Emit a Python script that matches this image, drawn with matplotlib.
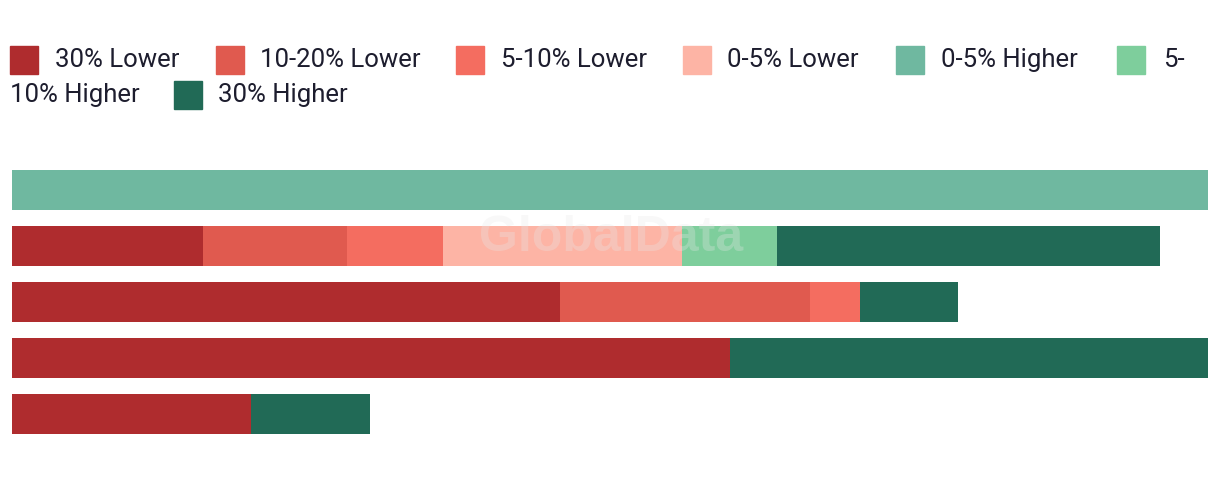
import matplotlib.pyplot as plt
from matplotlib.patches import Rectangle
import numpy as np

labels = ['30% Lower', '10-20% Lower', '5-10% Lower', '0-5% Lower',
          '0-5% Higher', '5-10% Higher', '30% Higher']
colors = ['#AF2C2E', '#E05A4F', '#F46D60', '#FDB4A5',
          '#6FB8A0', '#7ECE9C', '#216A56']

# one list per segment, five bars top to bottom
lower30 = [0, 8, 22.9, 30, 10]
lower10_20 = [0, 6, 10.45, 0, 0]
lower5_10 = [0, 4, 2.1, 0, 0]
lower0_5 = [0, 10, 0, 0, 0]
higher0_5 = [50, 0, 0, 0, 0]
higher5_10 = [0, 4, 0, 0, 0]
higher30 = [0, 16, 4.1, 20, 4.95]

series = [lower30, lower10_20, lower5_10, lower0_5, higher0_5, higher5_10, higher30]

W, H = 1220, 478
fig = plt.figure(figsize=(W / 100, H / 100), dpi=100)
ax = fig.add_axes([12 / W, 36 / H, 1196 / W, 280 / H])

y = np.arange(len(lower30))
left = np.zeros(len(y))
for vals, c in zip(series, colors):
    ax.barh(y, vals, left=left, height=40 / 56, color=c, linewidth=0)
    left += np.array(vals)

ax.set_xlim(0, 50)
ax.set_ylim(4.5, -0.5)
ax.axis('off')

# watermark
ax.text(25.05, 0.86, 'GlobalData', ha='center', va='center', fontsize=36,
        fontweight='bold', color='#e8e8e8', alpha=0.3, family='Liberation Sans')

# legend drawn by hand so it wraps like the original
font = dict(family='Roboto', fontsize=18.5, color='#1d1d2e', va='center')
row1 = 60
row2 = 95
sw = [10, 216, 456, 683, 896, 1117, 174]
tx = [55, 260, 501, 727, 941, 1163, 218]
rows = [row1] * 6 + [row2]
for i in range(7):
    fig.patches.append(Rectangle((sw[i] / W, (H - rows[i] - 14) / H), 28 / W, 28 / H,
                                 transform=fig.transFigure, color=colors[i]))
    txt = labels[i] if i != 5 else '5-'
    fig.text(tx[i] / W, (H - rows[i]) / H, txt, **font)
fig.text(10 / W, (H - row2) / H, '10% Higher', **font)

fig.savefig('out.png', dpi=100)
